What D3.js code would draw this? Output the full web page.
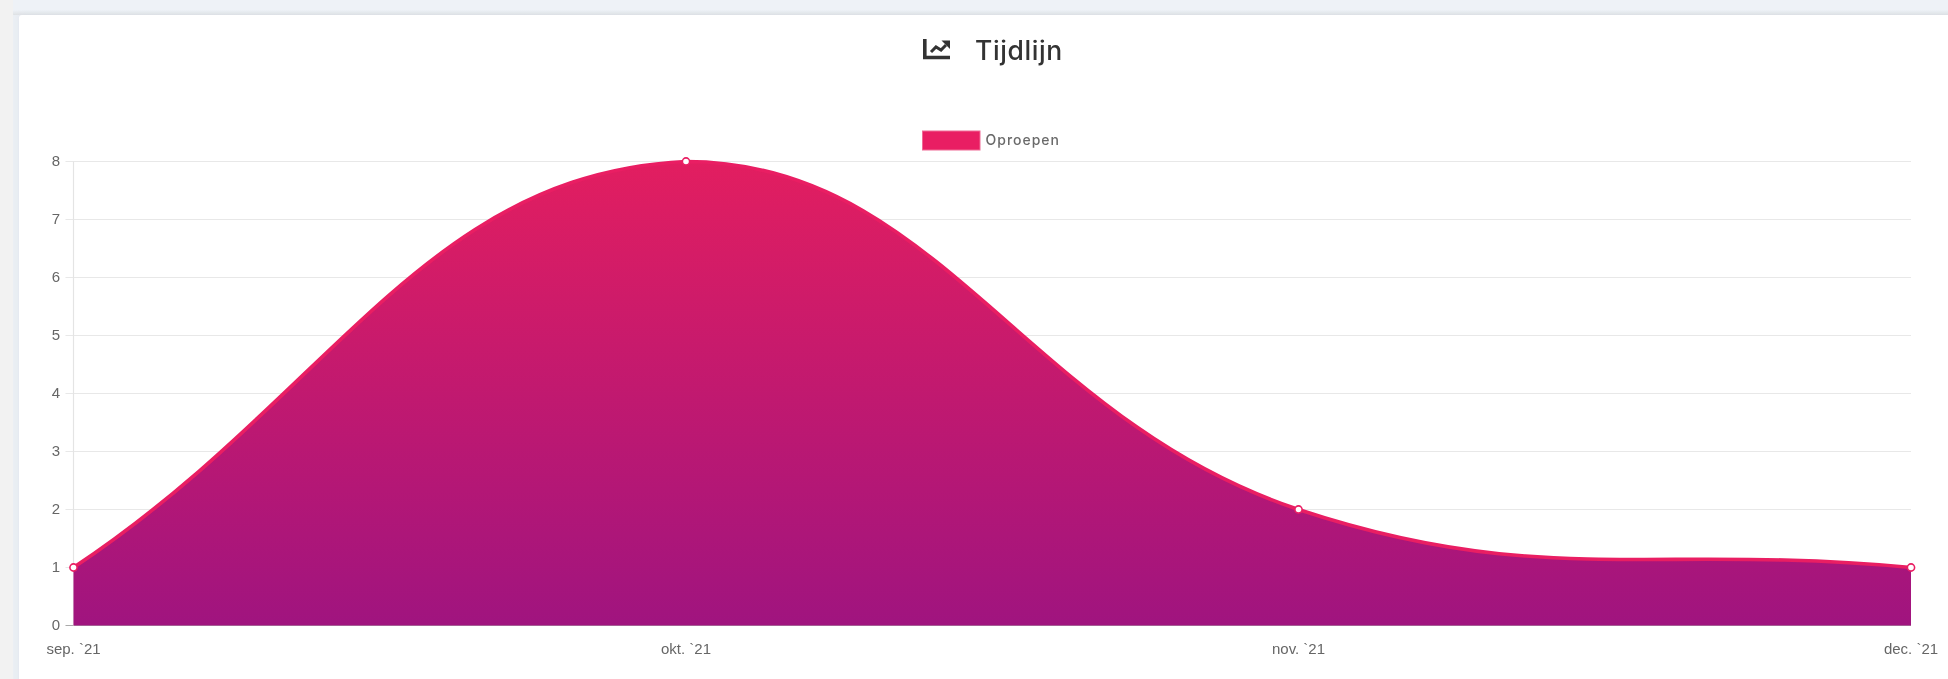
<!DOCTYPE html>
<html>
<head>
<meta charset="utf-8">
<script src="https://cdn.jsdelivr.net/npm/d3@7"></script>
<style>
  html, body { margin: 0; padding: 0; width: 1948px; height: 679px; overflow: hidden; background: #f2f2f2; }
  #side { position: absolute; left: 13px; top: 0; width: 1935px; height: 679px; background: #ebeff4; }
  #top { position: absolute; left: 13px; top: 0; width: 1935px; height: 15px; background: linear-gradient(#eef2f7 0, #eef2f7 10px, #dfe2e5 15px); }
  #card { position: absolute; left: 19px; top: 15px; width: 1940px; height: 680px; background: #fff; border-radius: 3px; box-shadow: 0 0 4px rgba(215,222,232,.5); }
  svg { position: absolute; left: 0; top: 0; filter: blur(0.55px); }
</style>
</head>
<body>
<div id="side"></div>
<div id="top"></div>
<div id="card"></div>
<div id="chart"></div>
<script>
const months = ["sep. `21", "okt. `21", "nov. `21", "dec. `21"];
const calls = [1, 8, 2, 1];
const yTicks = [0, 1, 2, 3, 4, 5, 6, 7, 8];
const title = "Tijdlijn";
const seriesName = "Oproepen";

const width = 1948;
const height = 679;
const left = 73.5, right = 1911, top_ = 161.5, bottom = 625.5;

const x = d3.scalePoint().domain(months).range([left, right]);
const y = d3.scaleLinear().domain([0, 8]).range([bottom, top_]);

// same kind of spline as chart.js, control points capped to the plot area
function splineCurve(ctx) {
  let pts = [];
  return {
    areaStart() {}, areaEnd() {},
    lineStart() { pts = []; },
    point(px, py) { pts.push([px, py]); },
    lineEnd() {
      const t = 0.42;
      const cp = pts.map((p, i) => {
        const a = pts[Math.max(i - 1, 0)], b = pts[Math.min(i + 1, pts.length - 1)];
        const d01 = Math.hypot(p[0] - a[0], p[1] - a[1]);
        const d12 = Math.hypot(b[0] - p[0], b[1] - p[1]);
        const s01 = d01 / (d01 + d12), s12 = d12 / (d01 + d12);
        const cap = v => [Math.max(left, Math.min(right, v[0])), Math.max(top_, Math.min(bottom, v[1]))];
        return {
          prev: cap([p[0] - t * s01 * (b[0] - a[0]), p[1] - t * s01 * (b[1] - a[1])]),
          next: cap([p[0] + t * s12 * (b[0] - a[0]), p[1] + t * s12 * (b[1] - a[1])])
        };
      });
      pts.forEach((p, i) => {
        if (i === 0) ctx.moveTo(p[0], p[1]);
        else ctx.bezierCurveTo(cp[i - 1].next[0], cp[i - 1].next[1], cp[i].prev[0], cp[i].prev[1], p[0], p[1]);
      });
    }
  };
}

const line = d3.line().x((d, i) => x(months[i])).y(d => y(d)).curve(splineCurve);

const svg = d3.select("#chart").append("svg").attr("width", width).attr("height", height);

const grad = svg.append("defs").append("linearGradient")
    .attr("id", "fill")
    .attr("gradientUnits", "userSpaceOnUse")
    .attr("x1", 0).attr("x2", 0).attr("y1", y(8)).attr("y2", y(0));
grad.append("stop").attr("offset", 0).attr("stop-color", "#e21e60");
grad.append("stop").attr("offset", 1).attr("stop-color", "#a0147f");

// grid and ticks
svg.append("g").selectAll("line").data(yTicks).join("line")
    .attr("x1", left - 8).attr("x2", right)
    .attr("y1", d => y(d)).attr("y2", d => y(d))
    .attr("stroke", d => d === 0 ? "#aaa" : "#e8e8e8")
    .attr("stroke-width", 1.2);
svg.append("line")
    .attr("x1", left).attr("x2", left).attr("y1", top_).attr("y2", bottom)
    .attr("stroke", "#e4e4e4").attr("stroke-width", 1.2);

svg.append("g").selectAll("text").data(yTicks).join("text")
    .attr("x", 60).attr("y", d => y(d) + 4.5)
    .attr("text-anchor", "end")
    .attr("font-family", "Liberation Sans")
    .attr("font-size", 15)
    .attr("fill", "#666")
    .text(d => d);

svg.append("g").selectAll("text").data(months).join("text")
    .attr("x", d => x(d)).attr("y", 654)
    .attr("text-anchor", "middle")
    .attr("font-family", "Liberation Sans")
    .attr("font-size", 15)
    .attr("fill", "#666")
    .text(d => d);

// area + line
const linePath = line(calls);
svg.append("path")
    .attr("d", linePath + `L${x(months[3])},${y(0)}L${x(months[0])},${y(0)}Z`)
    .attr("fill", "url(#fill)");
svg.append("path")
    .attr("d", linePath)
    .attr("fill", "none")
    .attr("stroke", "#e91e63")
    .attr("stroke-width", 3.6);

svg.append("g").selectAll("circle").data(calls).join("circle")
    .attr("cx", (d, i) => x(months[i]))
    .attr("cy", d => y(d))
    .attr("r", 3.6)
    .attr("fill", "#fff")
    .attr("stroke", "#e91e63")
    .attr("stroke-width", 1.6);

// legend
svg.append("rect")
    .attr("x", 922.5).attr("y", 131).attr("width", 57.5).attr("height", 19)
    .attr("fill", "#e91e63").attr("stroke", "#f06a95").attr("stroke-width", 1);
svg.append("text")
    .attr("x", 985.5).attr("y", 145)
    .attr("font-family", "Inter")
    .attr("font-weight", 500)
    .attr("font-size", 14)
    .attr("letter-spacing", 1)
    .attr("fill", "#6a6a6a")
    .text(seriesName);

// title with chart-line icon
const icon = svg.append("g").attr("transform", "translate(923,38)")
    .attr("fill", "none").attr("stroke", "#333").attr("stroke-width", 3.6);
icon.append("path").attr("d", "M1.8,1V19.5H27");
icon.append("path").attr("d", "M8,14L13,9L18,12L23,7").attr("stroke-width", 3);
icon.append("path").attr("d", "M18.5,2.5H27V11Z").attr("fill", "#333").attr("stroke", "none");
svg.append("text")
    .attr("x", 975).attr("y", 60)
    .attr("font-family", "Inter")
    .attr("font-weight", 500)
    .attr("font-size", 26.5)
    .attr("letter-spacing", 0.6)
    .attr("fill", "#333")
    .text(title);
</script>
</body>
</html>
